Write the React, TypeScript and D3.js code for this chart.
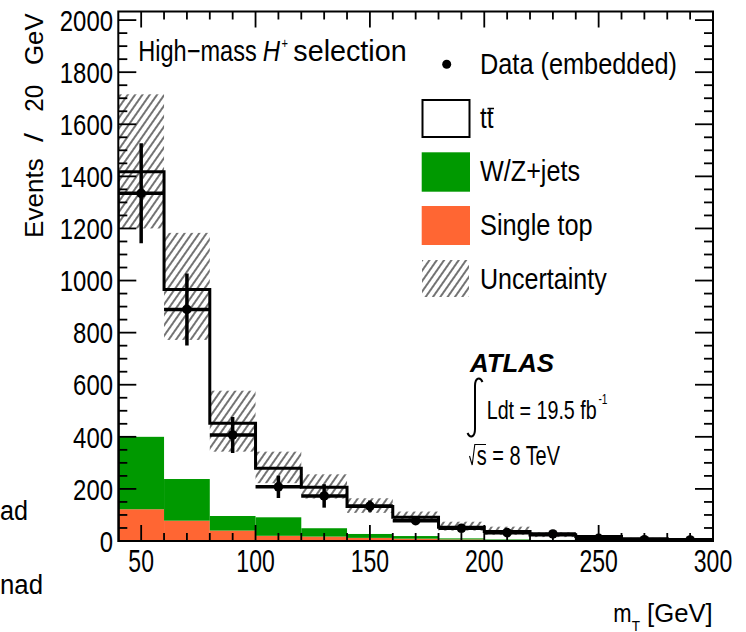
import React from 'react';
import * as d3 from 'd3';

// ---------------- data ----------------
const binEdges = [40, 60, 80, 100, 120, 140, 160, 180, 200, 220, 240, 260, 280, 300];
const singleTop = [122, 78, 40, 20, 17, 12, 9, 6, 4, 3, 2, 1, 1];
const wzJets = [278, 160, 56, 71, 32, 15, 10, 4, 2, 1, 1, 1, 0];
const ttbar = [1018, 728, 356, 188, 157, 105, 72, 43, 30, 19, 14, 7, 5];
const uncHigh = [1715, 1183, 577, 343, 256, 164, 113, 74, 55, 33, 22, 12, 8];
const uncLow = [1200, 772, 343, 222, 163, 108, 74, 40, 24, 15, 11, 6, 4];
const dataVals = [1335, 889, 407, 208, 173, 134, 78, 49, 32, 27, 10, 5, 4];
const dataErr = [192, 138, 69, 43, 45, 22, 14, 12, 10, 8, 6, 4, 4];
const yTickLabels = [0, 200, 400, 600, 800, 1000, 1200, 1400, 1600, 1800, 2000];
const xTickLabels = [50, 100, 150, 200, 250, 300];

const W = 746;
const H = 632;
const FONT = "'Liberation Sans', Arial, Helvetica, sans-serif";
const GREEN = '#009900';
const ORANGE = '#ff6633';

const x = d3.scaleLinear().domain([40, 300]).range([118.3, 713]);
const y = d3.scaleLinear().domain([0, 2033]).range([541, 11.5]);

const nb = binEdges.length - 1;
const bins = d3.range(nb).map((i) => {
  const st = singleTop[i];
  const wz = st + wzJets[i];
  const tot = wz + ttbar[i];
  return { lo: binEdges[i], hi: binEdges[i + 1], st, wz, tot, uh: uncHigh[i], ul: uncLow[i], d: dataVals[i], e: dataErr[i] };
});

function T(props: any) {
  const { x, y, size, len, anchor, weight, italic, children, fill } = props;
  return (
    <text
      x={x}
      y={y}
      fontSize={size}
      fontFamily={FONT}
      fontWeight={weight || 'normal'}
      fontStyle={italic ? 'italic' : 'normal'}
      textAnchor={anchor || 'start'}
      textLength={len}
      lengthAdjust="spacingAndGlyphs"
      fill={fill || '#000'}
    >
      {children}
    </text>
  );
}

export default function App() {
  const [x0, x1] = x.range();
  const [y0, y1] = y.range();

  // step outline of total stack
  let outline = `M${x(binEdges[0])},${y(0)}`;
  bins.forEach((b) => {
    outline += `V${y(b.tot)}H${x(b.hi)}`;
  });
  outline += `V${y(0)}`;

  const yMinor = d3.range(0, 2001, 50);
  const xMinor = d3.range(50, 301, 10);

  const legendRows = [73.5, 128, 180.5, 234.5, 288.5];

  return (
    <svg width={W} height={H} style={{ position: 'absolute', left: 0, top: 0, background: '#fff' }}>
      <defs>
        <clipPath id="plotclip">
          <rect x={x0} y={y1} width={x1 - x0} height={y0 - y1} />
        </clipPath>
        <pattern id="hatch" patternUnits="userSpaceOnUse" width="6" height="10" patternTransform="rotate(35)">
          <line x1="3" y1="0" x2="3" y2="10" stroke="#000" strokeWidth="1.1" />
        </pattern>
      </defs>
      <rect x={0} y={0} width={W} height={H} fill="#fff" />

      {/* remnants of neighbouring figure */}
      <T x={0} y={519.5} size={27} len={28}>ad</T>
      <T x={0} y={593.5} size={27} len={43}>nad</T>

      <g clipPath="url(#plotclip)">
        {bins.map((b, i) => (
          <g key={'s' + i}>
            <rect x={x(b.lo)} y={y(b.st)} width={x(b.hi) - x(b.lo)} height={y(0) - y(b.st)} fill={ORANGE} />
            <rect x={x(b.lo)} y={y(b.wz)} width={x(b.hi) - x(b.lo)} height={y(b.st) - y(b.wz)} fill={GREEN} />
          </g>
        ))}
        {bins.map((b, i) => (
          <rect key={'h' + i} x={x(b.lo)} y={y(b.uh)} width={x(b.hi) - x(b.lo)} height={y(b.ul) - y(b.uh)} fill="url(#hatch)" />
        ))}
        <path d={outline} fill="none" stroke="#000" strokeWidth={3} strokeLinejoin="miter" />
        {bins.map((b, i) => {
          const cx = x((b.lo + b.hi) / 2);
          return (
            <g key={'d' + i}>
              <line x1={x(b.lo)} x2={x(b.hi)} y1={y(b.d)} y2={y(b.d)} stroke="#000" strokeWidth={3.5} />
              <line x1={cx} x2={cx} y1={y(b.d + b.e)} y2={y(Math.max(0, b.d - b.e))} stroke="#000" strokeWidth={3.5} />
              <circle cx={cx} cy={y(b.d)} r={4.8} fill="#000" />
            </g>
          );
        })}
      </g>

      {/* frame */}
      <rect x={x0} y={y1} width={x1 - x0} height={y0 - y1} fill="none" stroke="#000" strokeWidth={2} />

      {/* y ticks */}
      {yMinor.map((v) => {
        const major = v % 200 === 0;
        const L = major ? 18 : 9;
        return (
          <g key={'yt' + v}>
            <line x1={x0} x2={x0 + L} y1={y(v)} y2={y(v)} stroke="#000" strokeWidth={1.8} />
            <line x1={x1} x2={x1 - L} y1={y(v)} y2={y(v)} stroke="#000" strokeWidth={1.8} />
          </g>
        );
      })}
      {/* x ticks */}
      {xMinor.map((v) => {
        const major = v % 50 === 0;
        const L = major ? 16 : 8;
        return (
          <g key={'xt' + v}>
            <line x1={x(v)} x2={x(v)} y1={y0} y2={y0 - L} stroke="#000" strokeWidth={1.8} />
            <line x1={x(v)} x2={x(v)} y1={y1} y2={y1 + L} stroke="#000" strokeWidth={1.8} />
          </g>
        );
      })}

      {/* tick labels */}
      {yTickLabels.map((v) => (
        <T key={'yl' + v} x={113} y={y(v) + 10.7} size={30} len={String(v).length * 13.3} anchor="end">
          {String(v)}
        </T>
      ))}
      {xTickLabels.map((v) => (
        <T key={'xl' + v} x={x(v)} y={571.5} size={30.5} len={String(v).length * 12.8} anchor="middle">
          {String(v)}
        </T>
      ))}

      {/* axis titles */}
      <g transform="translate(42.5,238) rotate(-90)">
        <T x={0} y={0} size={25} len={79.7}>Events</T>
        <T x={96} y={0} size={25} len={9}>/</T>
        <T x={126.3} y={0} size={25} len={26.7}>20</T>
        <T x={173} y={0} size={25} len={51.7}>GeV</T>
      </g>
      <T x={613.3} y={621.7} size={25} len={18.3}>m</T>
      <T x={631.7} y={630.5} size={15} len={8.3}>T</T>
      <T x={647} y={621.7} size={25} len={65.7}>[GeV]</T>

      {/* title */}
      <T x={138.3} y={61} size={29.5} len={118.4}>High−mass</T>
      <T x={262.7} y={61} size={29.5} len={17.3} italic>H</T>
      <T x={281.5} y={47.5} size={15} len={6.5}>+</T>
      <T x={293.3} y={61} size={29.5} len={113.4}>selection</T>

      {/* legend */}
      <circle cx={446.7} cy={64.3} r={4.5} fill="#000" />
      <T x={480} y={legendRows[0]} size={30} len={197}>Data (embedded)</T>

      <rect x={422.5} y={100} width={47} height={37} fill="#fff" stroke="#000" strokeWidth={2} />
      <T x={480} y={legendRows[1]} size={30} len={13.5}>tt</T>
      <line x1={487.5} x2={494} y1={108.5} y2={108.5} stroke="#000" strokeWidth={1.5} />

      <rect x={421.7} y={152.3} width={48.3} height={39.4} fill={GREEN} />
      <T x={480} y={legendRows[2]} size={30} len={100}>W/Z+jets</T>

      <rect x={421.7} y={206} width={48.3} height={39} fill={ORANGE} />
      <T x={480} y={legendRows[3]} size={30} len={112.7}>Single top</T>

      <rect x={422} y={260} width={47} height={37} fill="url(#hatch)" />
      <T x={480} y={legendRows[4]} size={30} len={126.7}>Uncertainty</T>

      {/* ATLAS label */}
      <T x={470} y={371.7} size={25.6} len={84} weight="bold" italic>ATLAS</T>
      <path d="M482.5,382 C480,376.5 475,377.5 475,386 L475,429 C475,437.5 470,438.5 467.5,433" fill="none" stroke="#000" strokeWidth={2} />
      <T x={486.7} y={419.3} size={25} len={110}>Ldt = 19.5 fb</T>
      <T x={598.5} y={404} size={14} len={9}>-1</T>
      <path d="M469.5,456 L472.2,465 L474.8,444.5 L486,444.5" fill="none" stroke="#000" strokeWidth={1.1} />
      <T x={476.7} y={465} size={27} len={83.3}>s = 8 TeV</T>
    </svg>
  );
}
